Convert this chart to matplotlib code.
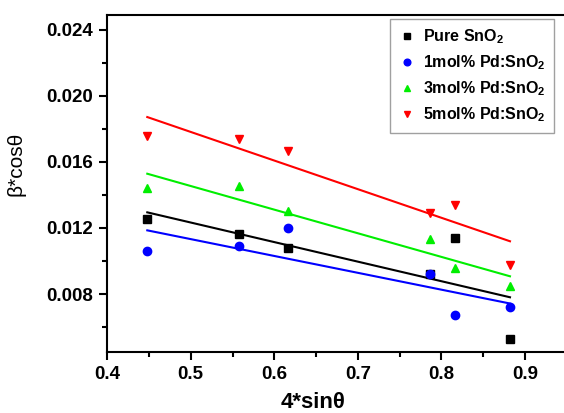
import numpy as np
import matplotlib
matplotlib.use("Agg")
import matplotlib.pyplot as plt
from matplotlib.ticker import MultipleLocator

plt.rcParams["font.family"] = ["Liberation Sans", "DejaVu Sans"]
plt.rcParams["mathtext.fontset"] = "custom"
plt.rcParams["mathtext.rm"] = "Liberation Sans:bold"
plt.rcParams["mathtext.bf"] = "Liberation Sans:bold"
plt.rcParams["mathtext.default"] = "rm"

# ── data ──────────────────────────────────────────────
x_pos = [0.448, 0.558, 0.616, 0.786, 0.816, 0.882]

pure_sno2 = [0.01255, 0.01165, 0.0108, 0.0092, 0.01141, 0.00527]
pd1 = [0.01062, 0.01093, 0.01198, 0.0092, 0.00671, 0.00723]
pd3 = [0.01443, 0.01456, 0.01303, 0.01132, 0.0096, 0.00848]
pd5 = [0.01758, 0.01738, 0.01667, 0.01293, 0.0134, 0.00976]

labels = ["Pure SnO$_2$", "1mol% Pd:SnO$_2$", "3mol% Pd:SnO$_2$", "5mol% Pd:SnO$_2$"]
colors = ["black", "#0000ff", "#00ee00", "#ff0000"]
markers = ["s", "o", "^", "v"]

fig = plt.figure(figsize=(5.64, 4.13), dpi=100)
ax = fig.add_axes([0.19, 0.148, 0.815, 0.816])

x = np.array(x_pos)
for ys, lab, c, m in zip([pure_sno2, pd1, pd3, pd5], labels, colors, markers):
    ys = np.array(ys)
    ax.plot(x, ys, ls="none", marker=m, color=c, ms=6, label=lab, zorder=3)
    k, b = np.polyfit(x, ys, 1)
    ax.plot(x, k * x + b, color=c, lw=1.5, zorder=2)

ax.set_xlim(0.4, 0.95)
ax.set_ylim(0.0045, 0.0249)
ax.xaxis.set_minor_locator(MultipleLocator(0.05))
ax.yaxis.set_minor_locator(MultipleLocator(0.002))
ax.set_yticks([0.008, 0.012, 0.016, 0.020, 0.024])
ax.set_yticklabels(["0.008", "0.012", "0.016", "0.020", "0.024"])
ax.set_xticks([0.4, 0.5, 0.6, 0.7, 0.8, 0.9])
ax.set_xticklabels(["0.4", "0.5", "0.6", "0.7", "0.8", "0.9"])

ax.tick_params(which="major", direction="out", length=6, width=1.5, labelsize=13.5, pad=4)
ax.tick_params(which="minor", direction="out", length=3.5, width=1.5)
for lbl in ax.get_xticklabels() + ax.get_yticklabels():
    lbl.set_fontweight("bold")
for s in ax.spines.values():
    s.set_linewidth(1.5)

ax.set_xlabel("4*sinθ", fontsize=16, fontweight="bold")
ax.xaxis.set_label_coords(0.448, -0.12)
ax.set_ylabel("β*cosθ", fontsize=15)
ax.yaxis.set_label_coords(-0.178, 0.558)

leg = ax.legend(loc="upper right", bbox_to_anchor=(0.972, 0.988), borderaxespad=0,
                frameon=True, fancybox=False, edgecolor="#888888", handlelength=1.0,
                handletextpad=0.5, labelspacing=0.45, borderpad=0.55,
                prop={"weight": "bold", "size": 11.5}, markerscale=0.8)
leg.get_frame().set_linewidth(1.0)

fig.savefig("out.png", dpi=100)
